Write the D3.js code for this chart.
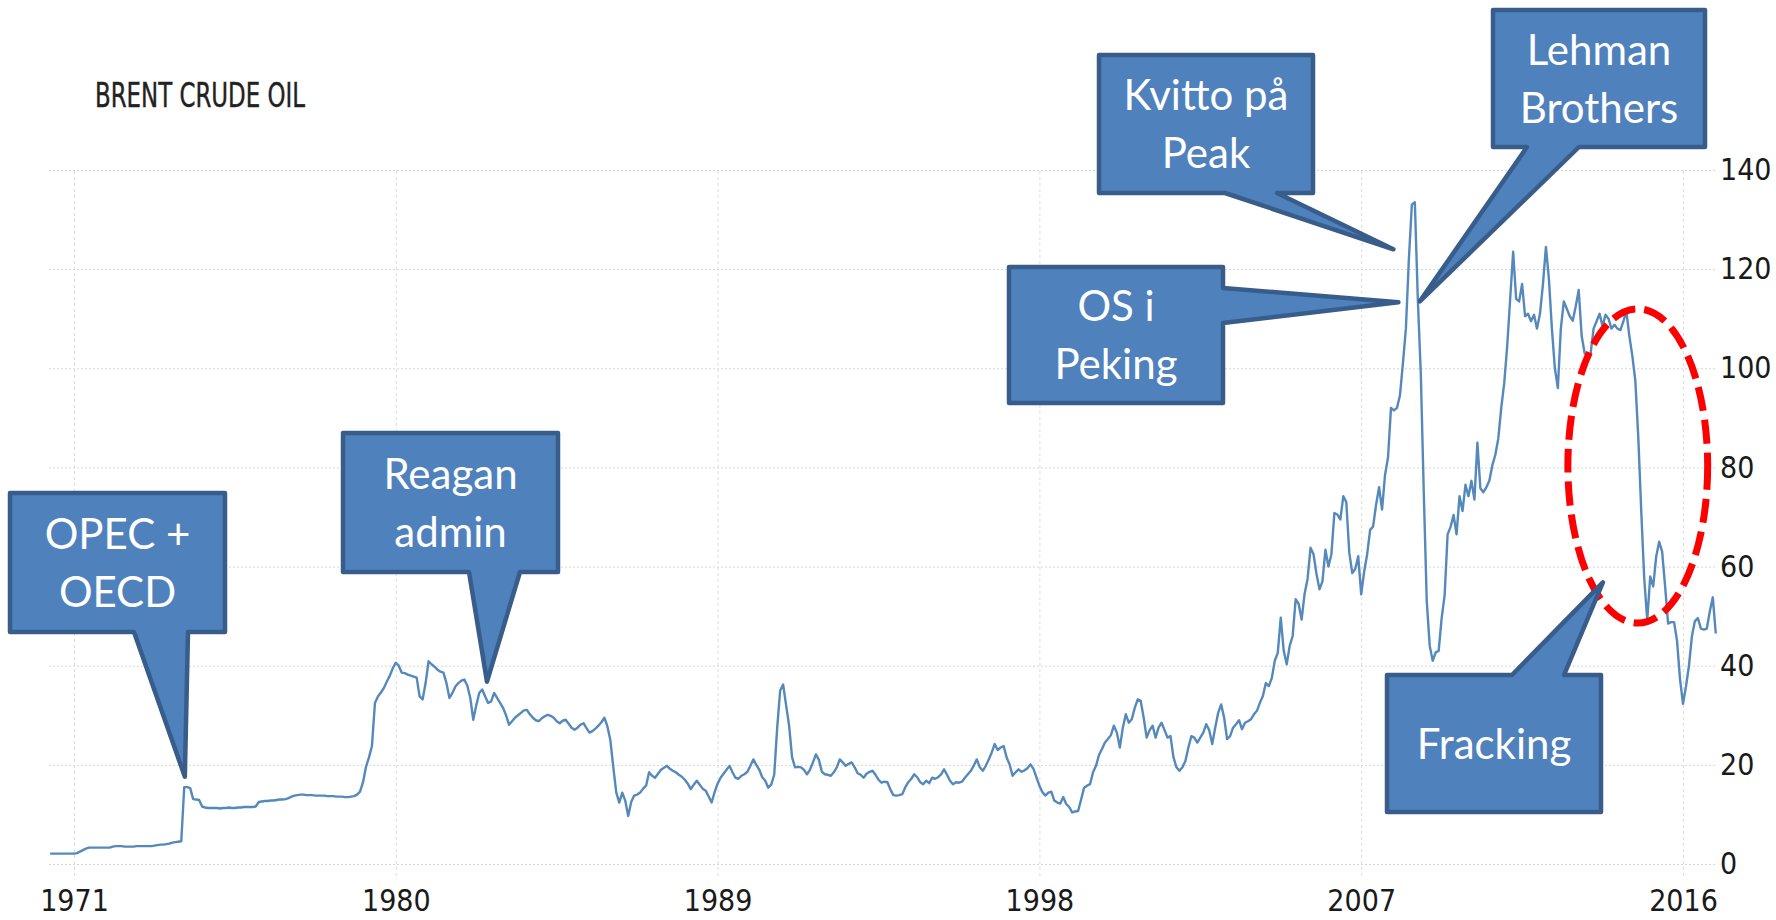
<!DOCTYPE html>
<html>
<head>
<meta charset="utf-8">
<script src="https://cdn.jsdelivr.net/npm/d3@7"></script>
<style>
  html, body { margin: 0; padding: 0; background: #fff; }
  svg { display: block; }
</style>
</head>
<body>
<svg id="chart" width="1776" height="920"></svg>
<script>
// Brent crude, monthly, first value = May 1970
const firstYear = 1970, firstMonth = 4;
const prices = [
  2.1, 2.1, 2.1, 2.1, 2.1, 2.1, 2.1, 2.1,                                   // 1970
  2.1, 2.2, 2.5, 2.8, 3.1, 3.3, 3.3, 3.3, 3.3, 3.3, 3.3, 3.3,               // 1971
  3.3, 3.5, 3.6, 3.6, 3.6, 3.5, 3.5, 3.5, 3.5, 3.6, 3.6, 3.6,               // 1972
  3.6, 3.6, 3.6, 3.7, 3.8, 3.9, 3.9, 4.0, 4.1, 4.3, 4.4, 4.5,               // 1973
  4.6, 15.5, 15.5, 15.3, 13.1, 13.0, 12.9, 11.6, 11.4, 11.3, 11.3, 11.3,    // 1974
  11.3, 11.2, 11.3, 11.3, 11.4, 11.3, 11.3, 11.4, 11.4, 11.5, 11.5, 11.5,   // 1975
  11.5, 11.6, 12.5, 12.6, 12.7, 12.7, 12.8, 12.8, 12.9, 13.0, 13.0, 13.1,   // 1976
  13.3, 13.6, 13.8, 13.9, 14.0, 14.0, 13.9, 13.9, 13.9, 13.8, 13.8, 13.8,   // 1977
  13.8, 13.7, 13.7, 13.7, 13.6, 13.6, 13.6, 13.5, 13.5, 13.6, 13.7, 14.0,   // 1978
  14.6, 16.5, 19.6, 21.5, 23.8, 32.5, 33.8, 34.6, 35.5, 36.8, 38.0, 39.5,   // 1979
  40.6, 40.0, 38.6, 38.5, 38.2, 38.0, 37.8, 37.6, 33.8, 33.2, 36.5, 40.9,   // 1980
  40.3, 39.8, 39.2, 38.8, 38.6, 36.5, 33.5, 34.5, 35.8, 36.5, 37.0, 37.2,   // 1981
  36.0, 33.5, 29.1, 32.0, 34.5, 35.2, 33.8, 32.5, 32.8, 34.5, 33.5, 32.5,   // 1982
  31.5, 30.0, 28.1, 28.8, 29.5, 30.0, 30.5, 31.0, 31.1, 30.2, 29.5, 29.0,   // 1983
  28.8, 29.4, 29.8, 30.1, 29.9, 29.5, 28.8, 28.4, 28.9, 29.1, 28.3, 27.5,   // 1984
  27.1, 27.5, 28.1, 28.4, 27.4, 26.5, 26.8, 27.3, 27.9, 28.6, 29.5, 27.8,   // 1985
  25.0, 19.5, 14.4, 12.4, 14.4, 12.8, 9.7, 12.5, 13.8, 14.0, 14.4, 15.2,    // 1986
  15.8, 18.5, 17.8, 17.4, 18.2, 19.0, 19.4, 19.8, 19.2, 18.8, 18.5, 18.0,   // 1987
  17.6, 17.0, 16.2, 15.1, 16.0, 16.8, 16.0, 15.2, 14.8, 13.6, 12.4, 14.5,   // 1988
  16.2, 17.4, 18.2, 19.0, 19.8, 18.5, 17.4, 17.2, 17.8, 18.1, 18.6, 19.8,   // 1989
  21.1, 20.0, 19.0, 17.5, 16.8, 15.4, 16.0, 18.0, 27.5, 35.0, 36.2, 32.0,   // 1990
  27.9, 21.5, 19.5, 19.6, 19.5, 19.0, 18.1, 19.0, 20.5, 22.1, 21.0, 18.6,   // 1991
  18.1, 18.0, 17.8, 18.5, 19.5, 21.1, 20.5, 19.8, 20.2, 20.5, 19.5, 18.3,   // 1992
  18.0, 17.4, 18.2, 18.6, 18.8, 18.0, 17.0, 16.4, 16.6, 16.5, 15.0, 13.9,   // 1993
  13.8, 13.9, 14.1, 15.5, 16.5, 17.2, 18.1, 17.5, 16.5, 16.1, 16.8, 16.3,   // 1994
  17.4, 17.2, 17.5, 18.1, 19.1, 18.0, 16.8, 16.1, 16.5, 16.4, 16.6, 17.4,   // 1995
  18.1, 18.8, 19.9, 21.1, 19.5, 18.8, 19.8, 21.1, 22.5, 24.2, 23.0, 23.5,   // 1996
  23.8, 21.5, 20.1, 17.8, 18.5, 19.1, 18.6, 18.9, 19.3, 20.1, 19.2, 17.5,   // 1997
  15.8, 14.5, 13.8, 14.4, 14.6, 12.8, 12.4, 12.2, 13.5, 12.1, 11.5, 10.4,   // 1998
  10.6, 10.7, 13.0, 15.4, 15.8, 16.1, 18.5, 19.8, 22.0, 23.2, 24.5, 25.2,   // 1999
  26.0, 27.9, 26.5, 23.5, 27.5, 30.2, 28.5, 29.2, 31.5, 33.2, 32.9, 29.5,   // 2000
  25.5, 27.0, 27.9, 25.5, 27.5, 28.5, 27.0, 25.5, 25.8, 21.5, 19.5, 18.8,   // 2001
  19.5, 20.8, 23.5, 25.8, 25.5, 24.5, 25.5, 26.5, 28.2, 27.0, 24.2, 27.5,   // 2002
  30.5, 32.2, 29.5, 25.2, 25.8, 27.5, 28.2, 29.0, 27.2, 28.5, 28.8, 29.2,   // 2003
  30.2, 30.9, 32.5, 33.9, 36.5, 35.9, 37.5, 41.0, 42.6, 49.7, 43.0, 40.3,   // 2004
  44.0, 46.0, 53.4, 52.5, 49.3, 54.5, 57.5, 63.8, 62.5, 58.5, 55.4, 57.0,   // 2005
  63.4, 60.0, 62.5, 70.8, 70.5, 69.5, 74.2, 73.0, 62.8, 58.7, 59.5, 62.1,   // 2006
  54.4, 59.0, 62.5, 67.4, 68.1, 72.5, 76.0, 71.5, 78.5, 82.0, 92.0, 91.5,   // 2007
  92.0, 94.5, 101.0, 108.0, 122.0, 133.0, 133.5, 114.0, 99.0, 75.0, 53.0, 44.0, // 2008
  41.0, 42.7, 43.0, 49.6, 54.2, 66.5, 68.0, 70.4, 66.5, 74.2, 71.2, 76.5,   // 2009
  74.2, 77.3, 73.5, 85.0, 75.8, 75.0, 76.0, 77.3, 80.4, 82.5, 85.8, 92.0,   // 2010
  97.0, 104.5, 114.0, 123.5, 114.0, 113.5, 117.0, 110.5, 111.0, 109.5, 110.8, 108.0, // 2011
  111.0, 117.0, 124.5, 118.0, 108.0, 100.0, 96.0, 108.0, 113.5, 112.0, 110.5, 109.6, // 2012
  112.5, 115.8, 106.5, 103.0, 102.5, 103.0, 108.0, 109.5, 111.0, 108.5, 110.8, 110.0, // 2013
  108.0, 108.8, 108.0, 107.7, 109.5, 111.5, 106.5, 102.5, 97.5, 86.0, 71.0, 57.5,   // 2014
  49.2, 58.0, 56.0, 62.0, 65.0, 63.0, 56.0, 48.5, 48.8, 48.8, 45.0, 37.3,   // 2015
  32.3, 35.8, 40.0, 46.0, 49.0, 49.6, 47.5, 47.3, 47.5, 51.0, 53.8, 46.5    // 2016
];

const yearTicks = [1971, 1980, 1989, 1998, 2007, 2016];
const valueTicks = [0, 20, 40, 60, 80, 100, 120, 140];
const title = "BRENT CRUDE OIL";

// callout texts and where their pointers end (year, price)
const calloutLabels = [["OPEC +", "OECD"], ["Reagan", "admin"], ["Kvitto på", "Peak"],
                       ["OS i", "Peking"], ["Lehman", "Brothers"], ["Fracking"]];
const calloutTips = [[1974.1, 17.6], [1982.55, 36.8], [2007.9, 124.0],
                     [2008.04, 113.3], [2008.64, 113.5], [2013.76, 56.8]];
// dashed ring round the 2014 fall: years and prices it spans
const ringYears = [2012.78, 2016.69];
const ringPrices = [48.6, 112.0];

// ---- layout ----
const svg = d3.select("#chart");
const x = d3.scaleLinear().domain([1971, 2016]).range([74, 1683]);
const y = d3.scaleLinear().domain([0, 140]).range([864, 170]);
const gridLeft = 48, gridRight = 1715, gridBottom = 876;
const tickFont = "'Liberation Sans Narrow', 'DejaVu Sans Condensed', 'Arial Narrow', sans-serif";

// boxes in pixels; pointer sits on one side between a and b
const boxes = [
  {x0: 10,   y0: 493, x1: 225,  y1: 632, side: "bottom", a: 134,  b: 188},
  {x0: 343,  y0: 433, x1: 558,  y1: 572, side: "bottom", a: 469,  b: 520},
  {x0: 1099, y0: 55,  x1: 1313, y1: 193, side: "bottom", a: 1225, b: 1277},
  {x0: 1009, y0: 267, x1: 1223, y1: 403, side: "right",  a: 288,  b: 323},
  {x0: 1493, y0: 10,  x1: 1705, y1: 147, side: "bottom", a: 1527, b: 1579},
  {x0: 1387, y0: 675, x1: 1601, y1: 812, side: "top",    a: 1512, b: 1564}
];

// title
svg.append("text")
  .attr("x", 95).attr("y", 107)
  .attr("font-family", tickFont)
  .attr("font-size", 33)
  .attr("fill", "#222")
  .attr("stroke", "#222")
  .attr("stroke-width", 0.4)
  .attr("textLength", 210)
  .attr("lengthAdjust", "spacingAndGlyphs")
  .text(title);

// vertical grid + year labels
const gx = svg.append("g")
  .attr("transform", `translate(0,${gridBottom})`)
  .call(d3.axisBottom(x).tickValues(yearTicks).tickFormat(d3.format("d"))
    .tickSize(-(gridBottom - 170)).tickPadding(14));
gx.select(".domain").remove();
gx.selectAll(".tick line").attr("stroke", "#dcdcdc").attr("stroke-dasharray", "3,3");
gx.selectAll(".tick text")
  .attr("font-family", tickFont).attr("font-size", 30).attr("fill", "#1a1a1a");

// horizontal grid + price labels
const gy = svg.append("g")
  .attr("transform", `translate(${gridRight},0)`)
  .call(d3.axisRight(y).tickValues(valueTicks)
    .tickSize(-(gridRight - gridLeft)).tickPadding(5));
gy.select(".domain").remove();
gy.selectAll(".tick line").attr("stroke", "#d6d6d6").attr("stroke-dasharray", "2,2");
gy.selectAll(".tick text")
  .attr("font-family", tickFont).attr("font-size", 30).attr("fill", "#1a1a1a");

// price line
const series = prices.map((v, i) => ({t: firstYear + (firstMonth + i) / 12, v: v}));
svg.append("path")
  .datum(series)
  .attr("fill", "none")
  .attr("stroke", "#5589bc")
  .attr("stroke-width", 2.4)
  .attr("stroke-linejoin", "round")
  .attr("d", d3.line().x(d => x(d.t)).y(d => y(d.v)));

// red dashed ring
svg.append("ellipse")
  .attr("cx", (x(ringYears[0]) + x(ringYears[1])) / 2)
  .attr("cy", (y(ringPrices[0]) + y(ringPrices[1])) / 2)
  .attr("rx", (x(ringYears[1]) - x(ringYears[0])) / 2)
  .attr("ry", (y(ringPrices[0]) - y(ringPrices[1])) / 2)
  .attr("fill", "none")
  .attr("stroke", "#ff0000")
  .attr("stroke-width", 7)
  .attr("stroke-dasharray", "24,9");

// callouts
function calloutPath(b, tip) {
  const p = d3.path();
  p.moveTo(b.x0, b.y0);
  if (b.side === "top") { p.lineTo(b.a, b.y0); p.lineTo(tip[0], tip[1]); p.lineTo(b.b, b.y0); }
  p.lineTo(b.x1, b.y0);
  if (b.side === "right") { p.lineTo(b.x1, b.a); p.lineTo(tip[0], tip[1]); p.lineTo(b.x1, b.b); }
  p.lineTo(b.x1, b.y1);
  if (b.side === "bottom") { p.lineTo(b.b, b.y1); p.lineTo(tip[0], tip[1]); p.lineTo(b.a, b.y1); }
  p.lineTo(b.x0, b.y1);
  p.closePath();
  return p.toString();
}

const callouts = svg.selectAll("g.callout")
  .data(boxes.map((b, i) => ({box: b, lines: calloutLabels[i],
    tip: [x(calloutTips[i][0]), y(calloutTips[i][1])]})))
  .enter().append("g").attr("class", "callout");

callouts.append("path")
  .attr("d", d => calloutPath(d.box, d.tip))
  .attr("fill", "#4f81bd")
  .attr("stroke", "#385d8a")
  .attr("stroke-width", 4.5)
  .attr("stroke-linejoin", "round");

callouts.each(function(d) {
  const cx = (d.box.x0 + d.box.x1) / 2;
  const cy = (d.box.y0 + d.box.y1) / 2;
  const base = d.lines.length === 1 ? [cy + 15] : [cy - 14, cy + 44];
  d3.select(this).selectAll("text")
    .data(d.lines)
    .enter().append("text")
    .attr("x", cx)
    .attr("y", (t, j) => base[j])
    .attr("text-anchor", "middle")
    .attr("font-family", "Lato, 'Open Sans', sans-serif")
    .attr("font-size", 42)
    .attr("fill", "#ffffff")
    .text(t => t);
});
</script>
</body>
</html>
